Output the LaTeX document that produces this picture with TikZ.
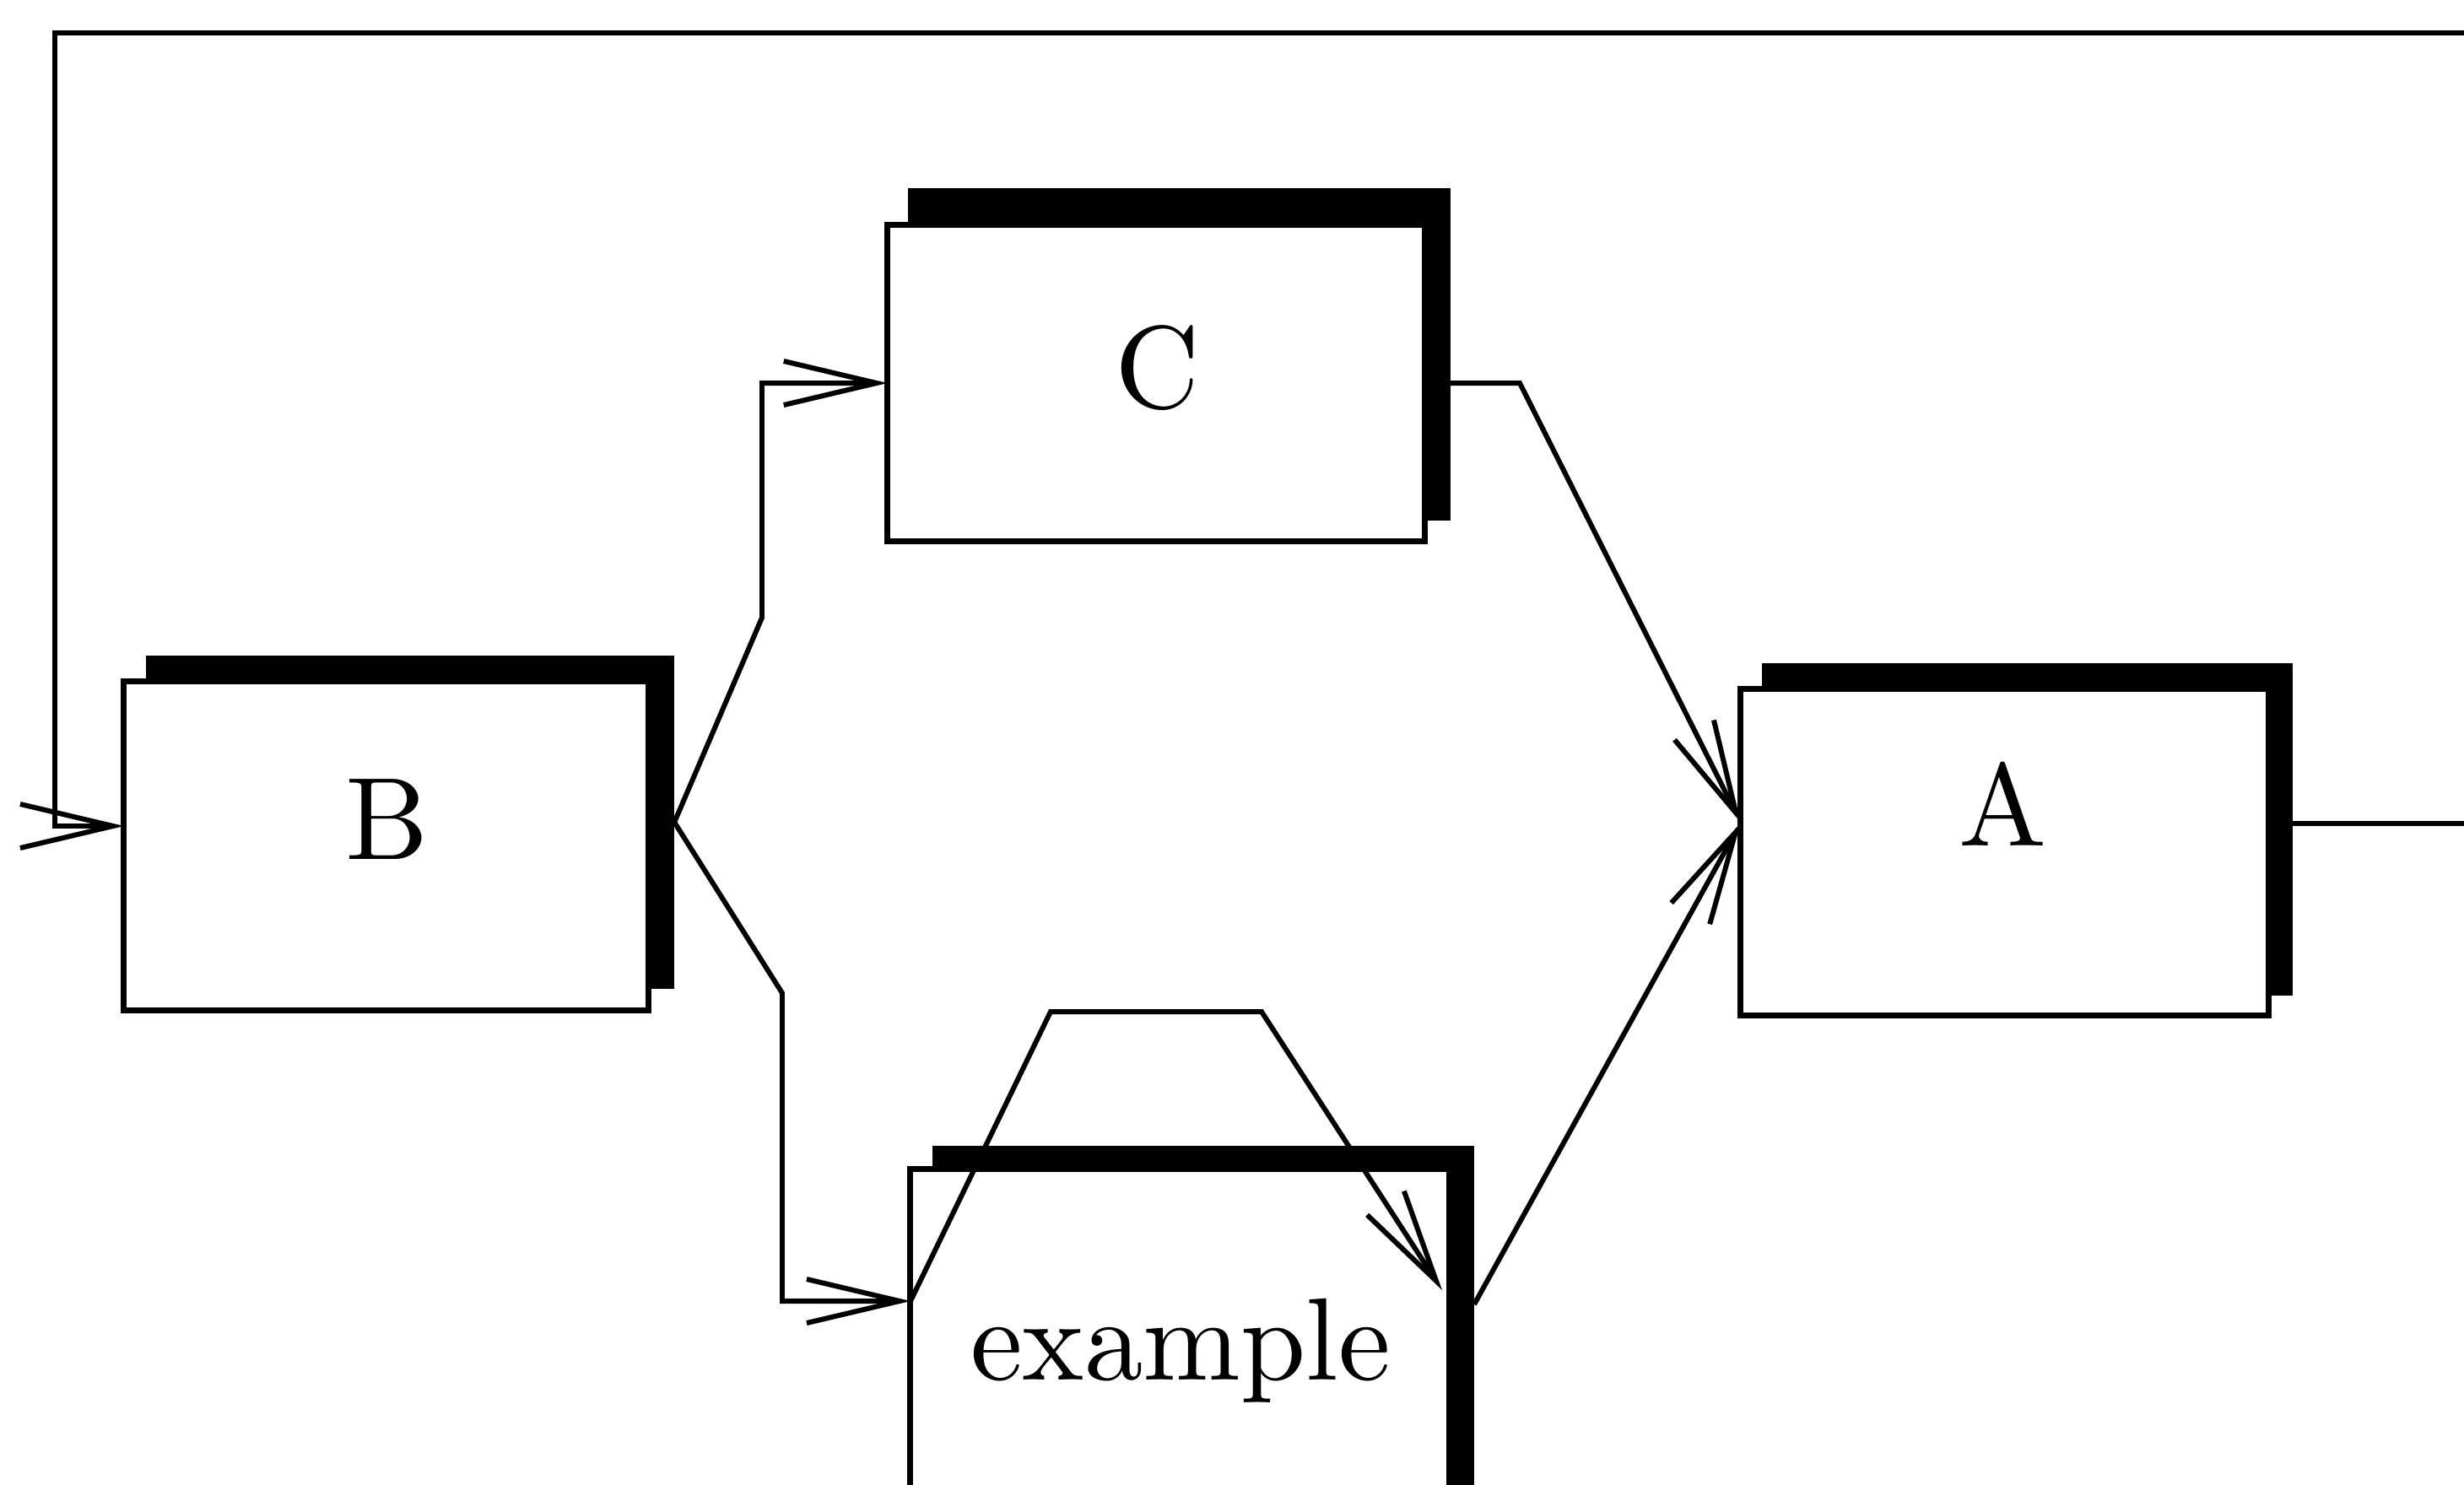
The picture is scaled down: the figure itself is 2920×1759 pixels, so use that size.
\documentclass[tikz,border=0pt]{standalone}
\usepackage{fontspec}
\setmainfont{lmroman10-regular.otf}
\usetikzlibrary{arrows.meta}

\tikzset{
  shadowbox/.style={rectangle, fill=black, draw=none, inner sep=0pt, outer sep=0pt},
  frontbox/.style={rectangle, draw=black, fill=white, line width=2pt, inner sep=0pt, outer sep=0pt},
  link/.style={line width=1.7pt, line join=miter},
  arrowlink/.style={link, -{Straight Barb[length=1.1cm, width=0.52cm]}},
  lbl/.style={font=\fontsize{39.5}{47}\selectfont, inner sep=0pt, anchor=base},
}

\begin{document}
\begin{tikzpicture}[x=0.01cm, y=-0.01cm]
  \clip (0,0) rectangle (2920,1759);
  \fill[white] (0,0) rectangle (2920,1759);

  % shadows behind each block
  \node[shadowbox, minimum width=6.26cm, minimum height=3.95cm] (Bs)  at (486,974.5) {};
  \node[shadowbox, minimum width=6.43cm, minimum height=3.94cm] (Cs)  at (1397.5,420) {};
  \node[shadowbox, minimum width=6.29cm, minimum height=3.94cm] (As)  at (2402.5,983) {};
  \node[shadowbox, minimum width=6.42cm, minimum height=5.42cm] (exs) at (1426,1629) {};

  % blocks
  \node[frontbox, minimum width=6.21cm, minimum height=3.89cm] (B)  at (457.5,1002.5) {};
  \node[frontbox, minimum width=6.36cm, minimum height=3.74cm] (C)  at (1370,454) {};
  \node[frontbox, minimum width=6.25cm, minimum height=3.86cm] (A)  at (2375.5,1010) {};
  \node[frontbox, minimum width=6.38cm, minimum height=5.14cm] (ex) at (1398,1643) {};

  % labels
  \node[lbl] (Blbl)  at (459,1018)  {B};
  \node[lbl] (Clbl)  at (1372,483)  {C};
  \node[lbl] (Albl)  at (2374,1002) {A};
  \node[lbl] (exlbl) at (1399,1635) {example};

  % attachment points
  \coordinate (Bin)    at (147,979);
  \coordinate (Aout)   at (2717,976);
  \coordinate (Ain)    at (2063,975);
  \coordinate (Cout)   at (1719,454);
  \coordinate (exin)   at (1079,1542);
  \coordinate (exout)  at (1747,1546);
  \coordinate (exback) at (1709,1529);

  % connectors
  \draw[arrowlink] (Aout) -- (2980,976) -- (2980,39) -- (65,39) -- (65,979) -- (Bin);
  \draw[arrowlink] (Bs.east) -- (903,732) -- (903,454) -- (C.west);
  \draw[arrowlink] (Bs.east) -- (927,1177) -- (927,1542) -- (exin);
  \draw[arrowlink] (Cout) -- (1801,454) -- (Ain);
  \draw[arrowlink] (exout) -- (Ain);
  \draw[arrowlink] (exin) -- (1245,1199) -- (1495,1199) -- (exback);
\end{tikzpicture}
\end{document}
